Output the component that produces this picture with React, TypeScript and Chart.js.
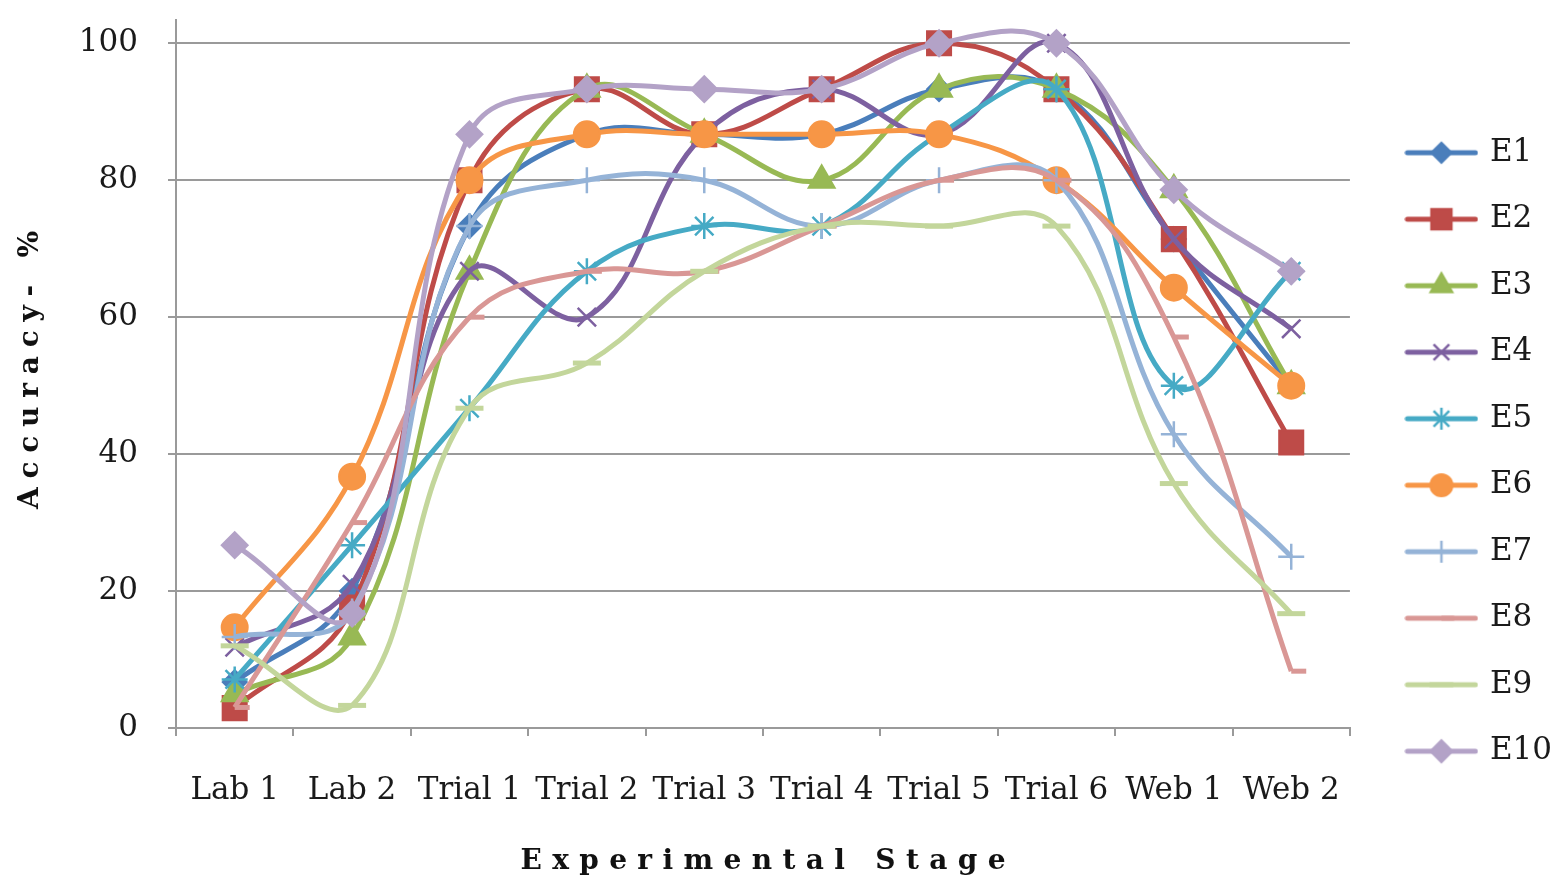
import React, { useEffect, useRef } from 'react';
import { Chart, registerables } from 'chart.js';
import { drawPoint } from 'chart.js/helpers';

Chart.register(...registerables);

const categories = ['Lab 1', 'Lab 2', 'Trial 1', 'Trial 2', 'Trial 3', 'Trial 4', 'Trial 5', 'Trial 6', 'Web 1', 'Web 2'];
const seriesNames = ['E1', 'E2', 'E3', 'E4', 'E5', 'E6', 'E7', 'E8', 'E9', 'E10'];

const e1 = [6.7, 20, 73.3, 86.7, 86.7, 86.7, 93.3, 93.3, 71.4, 50];
const e2 = [2.9, 17.6, 80, 93.3, 86.7, 93.3, 100, 93.3, 71.4, 41.7];
const e3 = [5, 13.3, 66.7, 93.3, 86.7, 80, 93.3, 93.3, 78.6, 50];
const e4 = [11.8, 21, 66.7, 60, 86.7, 93.3, 86.7, 100, 71.4, 58.3];
const e5 = [7.1, 26.7, 46.7, 66.7, 73.3, 73.3, 86.7, 93.3, 50, 66.7];
const e6 = [14.7, 36.7, 80, 86.7, 86.7, 86.7, 86.7, 80, 64.3, 50];
const e7 = [13.3, 17, 73.3, 80, 80, 73.3, 80, 80, 42.9, 25];
const e8 = [3, 30, 60, 66.7, 66.7, 73.3, 80, 80, 57.1, 8.3];
const e9 = [12, 3.3, 46.7, 53.3, 66.7, 73.3, 73.3, 73.3, 35.7, 16.7];
const e10 = [26.7, 16.7, 86.7, 93.3, 93.3, 93.3, 100, 100, 78.6, 66.7];

const yTicks = [0, 20, 40, 60, 80, 100];

const X_TITLE = 'Experimental Stage';
const Y_TITLE = 'Accuracy- %';

const colors = ['#4A7EBB', '#BE4B48', '#98B954', '#7D60A0', '#46AAC5', '#F79646', '#95B3D7', '#D99795', '#C3D69B', '#B3A2C7'];
const markers: any[] = [
  { style: 'rectRot', radius: 12, bw: 2 },
  { style: 'rect', radius: 17, bw: 2 },
  { style: 'triangle', radius: 15, bw: 2 },
  { style: 'crossRot', radius: 13, bw: 2.5 },
  { style: 'star', radius: 13, bw: 2.5 },
  { style: 'circle', radius: 13, bw: 2 },
  { style: 'cross', radius: 13, bw: 2.5 },
  { style: 'dash', radius: 15, bw: 5 },
  { style: 'line', radius: 14, bw: 5 },
  { style: 'rectRot', radius: 13, bw: 2 },
];
const allSeries = [e1, e2, e3, e4, e5, e6, e7, e8, e9, e10];

const FONT = '"DejaVu Serif", serif';

function makeLegendImage(color: string, m: any) {
  const c = document.createElement('canvas');
  c.width = 74;
  c.height = 32;
  const ctx = c.getContext('2d')!;
  ctx.strokeStyle = color;
  ctx.fillStyle = color;
  ctx.lineWidth = 5;
  ctx.lineCap = 'round';
  ctx.beginPath();
  ctx.moveTo(3, 16);
  ctx.lineTo(71, 16);
  ctx.stroke();
  ctx.lineCap = 'butt';
  ctx.lineWidth = m.bw;
  drawPoint(ctx, { pointStyle: m.style, radius: m.radius * 0.85, borderWidth: m.bw, rotation: 0 } as any, 37, 16);
  return c;
}

function drawSpaced(ctx: CanvasRenderingContext2D, text: string, cx: number, cy: number, target: number) {
  (ctx as any).letterSpacing = '0px';
  const w = ctx.measureText(text).width;
  const sp = Math.max(0, (target - w) / (text.length - 1));
  (ctx as any).letterSpacing = sp + 'px';
  ctx.textAlign = 'left';
  ctx.fillText(text, cx - target / 2, cy);
  (ctx as any).letterSpacing = '0px';
}

const titlePlugin = {
  id: 'axisTitles',
  afterDraw(chart: any) {
    const { ctx, chartArea } = chart;
    ctx.save();
    ctx.font = `bold 28px ${FONT}`;
    ctx.fillStyle = '#111';
    ctx.textBaseline = 'middle';
    drawSpaced(ctx, X_TITLE, (chartArea.left + chartArea.right) / 2, chart.height - 24, 485);
    ctx.translate(31, 370);
    ctx.rotate(-Math.PI / 2);
    drawSpaced(ctx, Y_TITLE, 0, 0, 278);
    ctx.restore();
  },
};

export default function App() {
  const ref = useRef<HTMLCanvasElement>(null);

  useEffect(() => {
    const legendImages = colors.map((c, i) => makeLegendImage(c, markers[i]));
    const datasets = allSeries.map((data, i) => ({
      label: seriesNames[i],
      data,
      borderColor: colors[i],
      backgroundColor: colors[i],
      borderWidth: 5,
      tension: 0.4,
      pointStyle: markers[i].style,
      pointRadius: markers[i].radius,
      pointBorderWidth: markers[i].bw,
      pointBackgroundColor: colors[i],
      pointBorderColor: colors[i],
      order: 10 - i,
      fill: false,
    }));
    const chart = new Chart(ref.current!, {
      type: 'line',
      data: { labels: categories, datasets },
      plugins: [titlePlugin],
      options: {
        animation: false,
        responsive: true,
        maintainAspectRatio: false,
        layout: { padding: { left: 0, top: 18, right: 5, bottom: 0 } },
        plugins: {
          tooltip: { enabled: false },
          title: { display: false },
          legend: {
            position: 'right',
            align: 'center',
            labels: {
              usePointStyle: true,
              pointStyleWidth: 66,
              padding: 35.5,
              color: '#1a1a1a',
              font: { family: FONT, size: 31 },
              generateLabels: () =>
                seriesNames.map((n, i) => ({
                  text: n,
                  pointStyle: legendImages[i],
                  fillStyle: colors[i],
                  strokeStyle: colors[i],
                  lineWidth: 0,
                  hidden: false,
                  datasetIndex: i,
                  fontColor: '#1a1a1a',
                })) as any,
            },
          },
        },
        scales: {
          x: {
            offset: true,
            grid: { display: true, drawOnChartArea: false, drawTicks: true, tickLength: 8, offset: true, color: '#9a9a9a', lineWidth: 2 },
            border: { display: true, color: '#9a9a9a', width: 2 },
            ticks: { color: '#1a1a1a', font: { family: FONT, size: 31 }, padding: 36, maxRotation: 0, autoSkip: false },
            afterFit: (s: any) => { s.height = 158; s.paddingLeft = 0; s.paddingRight = 0; },
          },
          y: {
            min: 0,
            max: 103.4,
            afterBuildTicks: (s: any) => { s.ticks = yTicks.map((v) => ({ value: v })); },
            grid: { color: '#9a9a9a', lineWidth: 2, tickLength: 8, drawTicks: true },
            border: { display: true, color: '#9a9a9a', width: 2 },
            ticks: { color: '#1a1a1a', font: { family: FONT, size: 31 }, padding: 30 },
            afterFit: (s: any) => { s.width = 176; s.paddingTop = 0; s.paddingBottom = 0; },
          },
          yR: {
            type: 'linear',
            position: 'right',
            display: true,
            grid: { display: false },
            border: { display: false },
            ticks: { display: false },
            afterFit: (s: any) => { s.width = 23; s.paddingTop = 0; s.paddingBottom = 0; },
          },
        },
      } as any,
    });
    return () => chart.destroy();
  }, []);

  return (
    <div style={{ position: 'fixed', left: 0, top: 0, width: 1567, height: 886, background: '#fff' }}>
      <canvas ref={ref} />
    </div>
  );
}
